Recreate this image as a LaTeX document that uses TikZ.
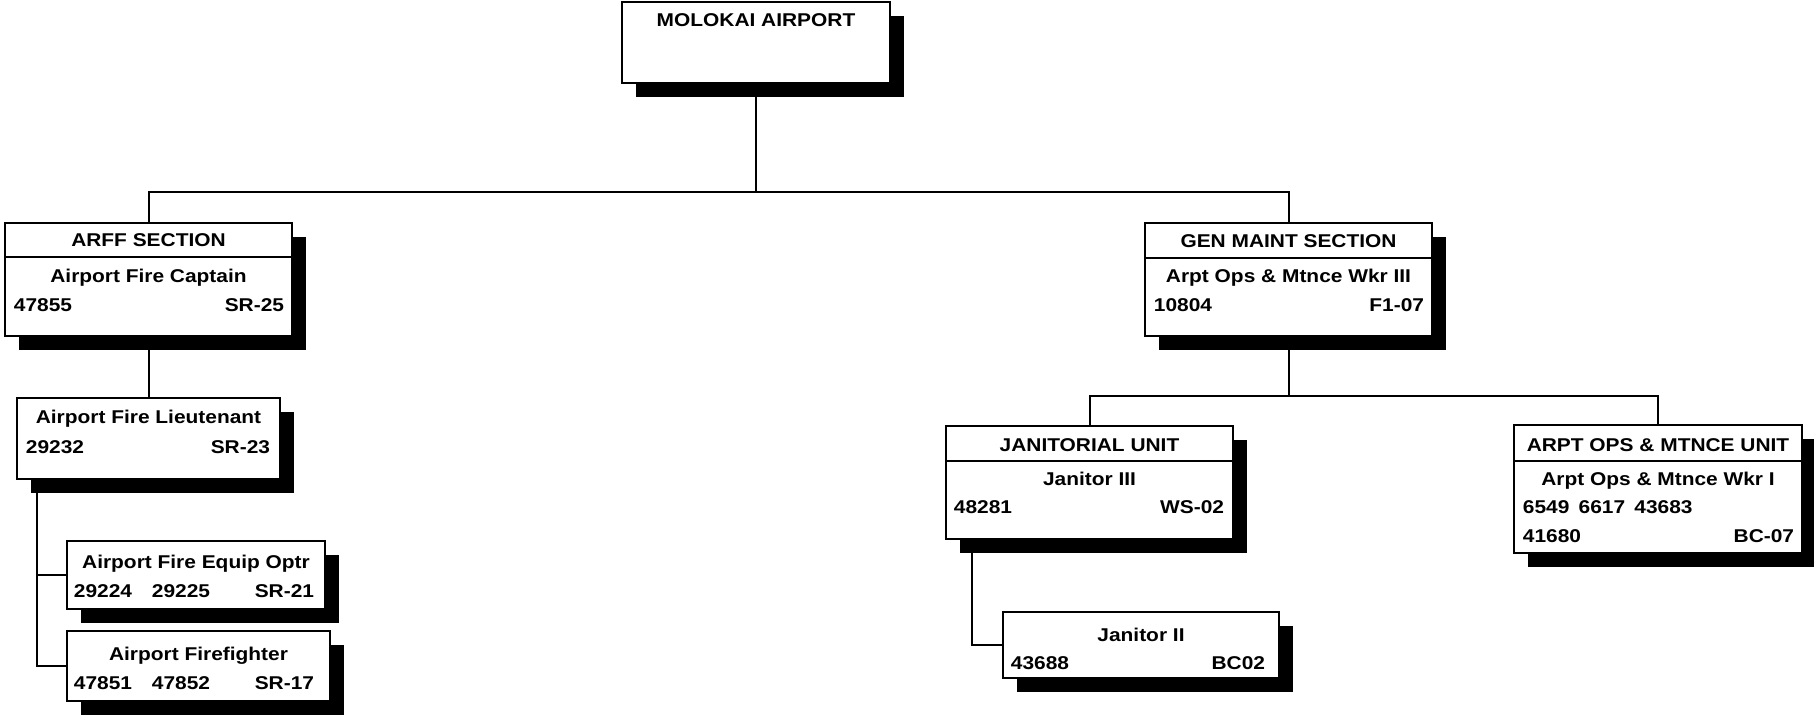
\documentclass[tikz,border=0pt]{standalone}
\usepackage{fontspec}
\newfontfamily\chartfont{Liberation Sans}[FakeStretch=1.13]
\usetikzlibrary{positioning, shadows}
\tikzset{
  every picture/.style={x=1pt, y=-1pt, line width=1.9pt, font=\chartfont\bfseries\fontsize{18.5}{22}\selectfont},
  post/.style 2 args={draw, fill=white, inner sep=0pt, minimum width=#1, minimum height=#2,
    drop shadow={shadow xshift=14pt, shadow yshift=-14pt, fill=black, opacity=1}},
  txt/.style={inner sep=0pt, anchor=base},
  lft/.style={inner sep=0pt, anchor=base west},
  rgt/.style={inner sep=0pt, anchor=base east},
  wire/.style={draw, line width=2pt},
}

\begin{document}
\begin{tikzpicture}
  \useasboundingbox (0,0) rectangle (1814,719);
  % airport
  \node[post={268pt}{81pt}] (top) at (756,42.5) {};
  \node[txt] (topT) at (756,27) {MOLOKAI AIRPORT};
  % arff section
  \node[post={287pt}{113pt}] (arff) at (148.5,279.5) {};
  \draw (arff.west |- 0,257) -- (arff.east |- 0,257);
  \node[txt] (arffT) at (148.5,247) {ARFF SECTION};
  \node[txt] (arffP) at (148.5,283) {Airport Fire Captain};
  \node[lft] (arffN) at (13,311) {47855};
  \node[rgt] (arffG) at (285,311) {SR-25};
  \node[post={263pt}{81pt}] (lieut) at (148.5,438.5) {};
  \node[txt] (lieutP) at (148.5,423) {Airport Fire Lieutenant};
  \node[lft] (lieutN) at (25,453) {29232};
  \node[rgt] (lieutG) at (271,453) {SR-23};
  \node[post={258pt}{68pt}] (equip) at (196,575) {};
  \node[txt] (equipP) at (196,568) {Airport Fire Equip Optr};
  \node[lft] (equipN) at (73,597) {29224};
  \node[lft] (equipM) at (151,597) {29225};
  \node[rgt] (equipG) at (315,597) {SR-21};
  \node[post={263pt}{70pt}] (ff) at (198.5,666) {};
  \node[txt] (ffP) at (198.5,660) {Airport Firefighter};
  \node[lft] (ffN) at (73,689) {47851};
  \node[lft] (ffM) at (151,689) {47852};
  \node[rgt] (ffG) at (315,689) {SR-17};
  % gen maint section
  \node[post={287pt}{113pt}] (gen) at (1288.5,279.5) {};
  \draw (gen.west |- 0,258) -- (gen.east |- 0,258);
  \node[txt] (genT) at (1288.5,248) {GEN MAINT SECTION};
  \node[txt] (genP) at (1288.5,283) {Arpt Ops \& Mtnce Wkr III};
  \node[lft] (genN) at (1153,311) {10804};
  \node[rgt] (genG) at (1425,311) {F1-07};
  \node[post={287pt}{113pt}] (jan) at (1089.5,482.5) {};
  \draw (jan.west |- 0,461) -- (jan.east |- 0,461);
  \node[txt] (janT) at (1089.5,451) {JANITORIAL UNIT};
  \node[txt] (janP) at (1089.5,485) {Janitor III};
  \node[lft] (janN) at (953,513) {48281};
  \node[rgt] (janG) at (1225,513) {WS-02};
  \node[post={276pt}{66pt}] (jan2) at (1141,645) {};
  \node[txt] (jan2P) at (1141,641) {Janitor II};
  \node[lft] (jan2N) at (1010,669) {43688};
  \node[rgt] (jan2G) at (1266,669) {BC02};
  \node[post={288pt}{128pt}] (ops) at (1658,489) {};
  \draw (ops.west |- 0,461) -- (ops.east |- 0,461);
  \node[txt] (opsT) at (1658,451) {ARPT OPS \& MTNCE UNIT};
  \node[txt] (opsP) at (1658,485) {Arpt Ops \& Mtnce Wkr I};
  \node[lft] (opsN) at (1522,513) {6549\enspace 6617\enspace 43683};
  \node[lft] (opsM) at (1522,542) {41680};
  \node[rgt] (opsG) at (1795,542) {BC-07};
  % connectors
  \path (top.south) ++(0,108) coordinate (bus1);
  \draw[wire] (top.south) -- (bus1);
  \draw[wire] (arff.north) |- (bus1) -| (gen.north);
  \draw[wire] (arff.south) -- (lieut.north);
  \coordinate (spine1) at ([xshift=21pt]lieut.south west);
  \draw[wire] (spine1) |- (equip.west);
  \draw[wire] (spine1) |- (ff.west);
  \path (gen.south) ++(0,59) coordinate (bus2);
  \draw[wire] (gen.south) -- (bus2);
  \draw[wire] (jan.north) |- (bus2) -| (ops.north);
  \coordinate (spine2) at ([xshift=27pt]jan.south west);
  \draw[wire] (spine2) |- (jan2.west);
\end{tikzpicture}
\end{document}
